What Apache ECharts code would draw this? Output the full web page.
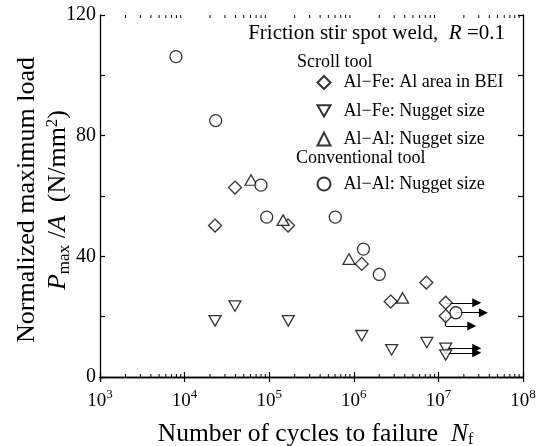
<!DOCTYPE html>
<html>
<head>
<meta charset="utf-8">
<script src="https://cdn.jsdelivr.net/npm/echarts@6/dist/echarts.min.js"></script>
<style>
  html, body { margin: 0; padding: 0; background: #fff; }
  #chart { width: 539px; height: 446px; }
</style>
</head>
<body>
<div id="chart"></div>
<script>
const FONT = "'Liberation Serif', 'Times New Roman', serif";

// Scroll tool, Al-Fe, Al area in BEI (diamonds)
const alFeBeiN = [22900, 39400, 167000, 1.24e6, 2.73e6, 7.2e6, 1.22e7, 1.22e7];
const alFeBeiP = [50.2, 62.8, 50.2, 37.5, 25.0, 31.3, 24.6, 20.2];
// Scroll tool, Al-Fe, nugget size (down triangles)
const alFeNugN = [22900, 39400, 168000, 1.24e6, 2.8e6, 7.3e6, 1.22e7, 1.22e7];
const alFeNugP = [18.6, 23.5, 18.6, 13.7, 9.0, 11.4, 9.5, 7.3];
// Scroll tool, Al-Al, nugget size (up triangles)
const alAlScrollN = [61000, 146000, 877000, 3.77e6];
const alAlScrollP = [65.3, 52.0, 39.1, 26.2];
// Conventional tool, Al-Al, nugget size (circles)
const alAlConvN = [7900, 23300, 80000, 93400, 604000, 1.30e6, 2.0e6, 1.61e7];
const alAlConvP = [106.2, 85.0, 63.6, 53.0, 53.0, 42.4, 34.0, 21.3];

// run-outs (arrows)
const runStartN = [1.22e7, 1.61e7, 1.22e7, 1.22e7, 1.22e7];
const runStartP = [24.6, 21.3, 20.2, 9.5, 8.0];
const runBendP = [24.6, 21.3, 16.9, 9.5, 8.0];
const runEndN = [2.84e7, 3.4e7, 2.48e7, 2.84e7, 2.84e7];

// axis ticks
const decades = [3, 4, 5, 6, 7];
const minorMult = [2, 3, 4, 5, 6, 7, 8, 9];
const yTickStep = 20;
const yLabelStep = 40;

const minorTicks = [];
decades.forEach(d => minorMult.forEach(m => minorTicks.push([m * Math.pow(10, d), 0])));

const zip = (a, b) => a.map((v, i) => [v, b[i]]);

// horizontal arrow part and the little vertical drop where the arrow is offset
const arrowLines = runStartN.map((n, i) => ({ coords: [[n, runBendP[i]], [runEndN[i], runBendP[i]]] }));
const dropLines = runStartN
    .map((n, i) => ({ coords: [[n, runStartP[i]], [n, runBendP[i]]] }))
    .filter((d, i) => runBendP[i] !== runStartP[i]);

const downTri = 'path://M0,0L2,0L1,1.732Z';
const hollow = { color: '#fff', borderColor: '#000', borderWidth: 1.3 };

const chart = echarts.init(document.getElementById('chart'));

const axisLine = { show: true, lineStyle: { color: '#000', width: 1.3 } };
const tick = { show: true, inside: true, length: 5, lineStyle: { color: '#000', width: 1.2 } };
const legendText = { fontFamily: FONT, fontSize: 18, color: '#000', padding: [0, 0, 0, 8] };

chart.setOption({
    animation: false,
    grid: { left: 100, right: 16, top: 15, bottom: 69, outerBoundsMode: 'none', containLabel: false },
    title: [
        {
            text: 'Friction stir spot weld,  {i|R} =0.1',
            right: 34, top: 22, padding: 0,
            textStyle: {
                fontFamily: FONT, fontSize: 21, fontWeight: 'normal', color: '#000', lineHeight: 22,
                rich: { i: { fontFamily: FONT, fontSize: 21, fontStyle: 'italic', color: '#000' } }
            }
        },
        {
            text: 'Scroll tool', left: 297, top: 51, padding: 0,
            textStyle: { fontFamily: FONT, fontSize: 18, fontWeight: 'normal', color: '#000', lineHeight: 22 }
        },
        {
            text: 'Conventional tool', left: 296, top: 147, padding: 0,
            textStyle: { fontFamily: FONT, fontSize: 18, fontWeight: 'normal', color: '#000', lineHeight: 22 }
        }
    ],
    legend: [
        {
            orient: 'vertical', left: 316.5, top: 73.5, padding: 0,
            itemWidth: 13, itemHeight: 13, itemGap: 10.3,
            selectedMode: false,
            data: ['Al−Fe: Al area in BEI', 'Al−Fe: Nugget size', 'Al−Al: Nugget size'],
            textStyle: legendText
        },
        {
            orient: 'vertical', left: 316.5, top: 175, padding: 0,
            itemWidth: 13, itemHeight: 13,
            selectedMode: false,
            data: ['conv'],
            formatter: () => 'Al−Al: Nugget size',
            textStyle: legendText
        }
    ],
    xAxis: [
        {
            type: 'log', logBase: 10, min: 1e3, max: 1e8, position: 'bottom',
            axisLine, axisTick: tick, splitLine: { show: false },
            axisLabel: {
                margin: 11, color: '#000',
                formatter: v => '{b|10}{s|' + Math.round(Math.log10(v)) + '}',
                rich: {
                    b: { fontFamily: FONT, fontSize: 19, lineHeight: 23, verticalAlign: 'bottom', color: '#000' },
                    s: { fontFamily: FONT, fontSize: 13, lineHeight: 13, verticalAlign: 'top', color: '#000' }
                }
            },
            name: '{a|Number of cycles to failure  }{i|N}{f|f}',
            nameLocation: 'middle', nameGap: 43, nameMoveOverlap: false,
            nameTextStyle: {
                padding: [0, 0, 0, 8],
                rich: {
                    a: { fontFamily: FONT, fontSize: 25.5, lineHeight: 28, verticalAlign: 'middle', color: '#000' },
                    i: { fontFamily: FONT, fontSize: 25.5, lineHeight: 28, fontStyle: 'italic', verticalAlign: 'middle', color: '#000' },
                    f: { fontFamily: FONT, fontSize: 16, lineHeight: 16, verticalAlign: 'bottom', color: '#000' }
                }
            }
        },
        {
            type: 'log', logBase: 10, min: 1e3, max: 1e8, position: 'top',
            axisLine, axisTick: tick, axisLabel: { show: false }, splitLine: { show: false }
        }
    ],
    yAxis: [
        {
            type: 'value', min: 0, max: 120, interval: yTickStep, position: 'left',
            axisLine, axisTick: tick, splitLine: { show: false },
            axisLabel: {
                margin: 4, color: '#000', fontFamily: FONT, fontSize: 20,
                formatter: v => (v % yLabelStep === 0 ? String(v) : '')
            },
            name: '{a|Normalized maximum load}\n{i|P}{s|max}{a| /}{i|A}{a|  (N/mm}{u|2}{a|)}',
            nameLocation: 'middle', nameRotate: 90, nameGap: 26, nameMoveOverlap: false,
            nameTextStyle: {
                lineHeight: 31,
                padding: [0, 8, 0, 0],
                rich: {
                    a: { fontFamily: FONT, fontSize: 26, lineHeight: 31, verticalAlign: 'middle', color: '#000' },
                    i: { fontFamily: FONT, fontSize: 26, lineHeight: 31, fontStyle: 'italic', verticalAlign: 'middle', color: '#000' },
                    s: { fontFamily: FONT, fontSize: 17, lineHeight: 17, verticalAlign: 'bottom', padding: [0, 0, 1, 0], color: '#000' },
                    u: { fontFamily: FONT, fontSize: 17, lineHeight: 17, verticalAlign: 'top', padding: [1, 0, 0, 0], color: '#000' }
                }
            }
        },
        {
            type: 'value', min: 0, max: 120, interval: yTickStep, position: 'right',
            axisLine, axisTick: tick, axisLabel: { show: false }, splitLine: { show: false }
        }
    ],
    series: [
        {
            type: 'custom', silent: true, z: 1,
            renderItem: (params, api) => {
                const b = api.coord([api.value(0), 0]);
                const t = api.coord([api.value(0), 120]);
                const st = { stroke: '#000', lineWidth: 1 };
                return {
                    type: 'group',
                    children: [
                        { type: 'line', shape: { x1: b[0], y1: b[1], x2: b[0], y2: b[1] - 3 }, style: st },
                        { type: 'line', shape: { x1: t[0], y1: t[1], x2: t[0], y2: t[1] + 3 }, style: st }
                    ]
                };
            },
            data: minorTicks
        },
        {
            type: 'lines', coordinateSystem: 'cartesian2d', silent: true, z: 2,
            symbol: ['none', 'triangle'], symbolSize: [7, 9],
            lineStyle: { color: '#000', width: 1.2, opacity: 1 },
            data: arrowLines
        },
        {
            type: 'lines', coordinateSystem: 'cartesian2d', silent: true, z: 2,
            symbol: 'none',
            lineStyle: { color: '#000', width: 1.2, opacity: 1 },
            data: dropLines
        },
        {
            name: 'Al−Fe: Al area in BEI', type: 'scatter', z: 5,
            symbol: 'diamond', symbolSize: 13, itemStyle: hollow,
            data: zip(alFeBeiN, alFeBeiP)
        },
        {
            name: 'Al−Fe: Nugget size', type: 'scatter', z: 5,
            symbol: downTri, symbolSize: 12, symbolKeepAspect: true, itemStyle: hollow,
            data: zip(alFeNugN, alFeNugP)
        },
        {
            name: 'Al−Al: Nugget size', type: 'scatter', z: 5,
            symbol: 'triangle', symbolSize: [12, 10.5], itemStyle: hollow,
            data: zip(alAlScrollN, alAlScrollP)
        },
        {
            name: 'conv', type: 'scatter', z: 5,
            symbol: 'circle', symbolSize: 12, itemStyle: hollow,
            data: zip(alAlConvN, alAlConvP)
        }
    ]
});
</script>
</body>
</html>
